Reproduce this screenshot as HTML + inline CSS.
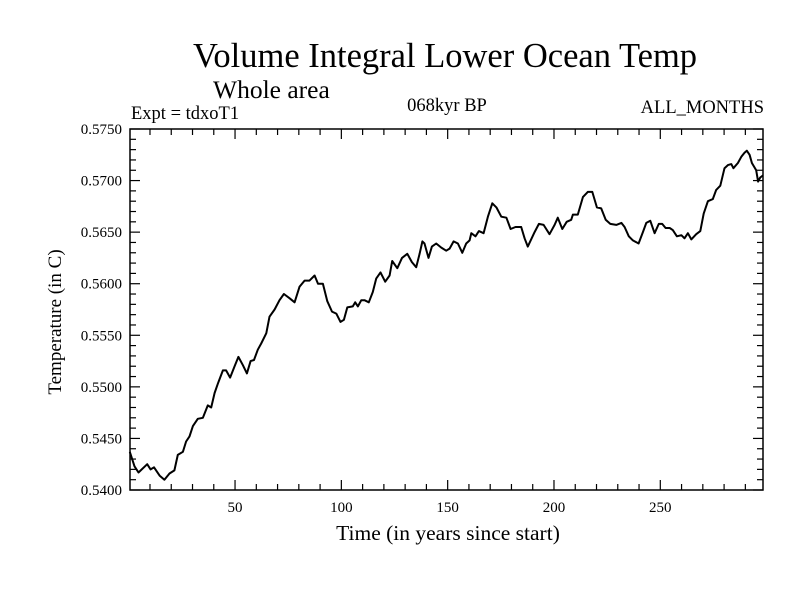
<!DOCTYPE html>
<html><head><meta charset="utf-8"><style>
body{margin:0;background:#fff;}
svg text{font-family:"Liberation Serif",serif;fill:#000;}
</style></head><body>
<svg id="c" width="800" height="600" xmlns="http://www.w3.org/2000/svg">
<text x="445" y="67" font-size="34.5" text-anchor="middle">Volume Integral Lower Ocean Temp</text>
<text x="213" y="98" font-size="25.5">Whole area</text>
<text x="131" y="119" font-size="18.5">Expt = tdxoT1</text>
<text x="447" y="111" font-size="18.5" text-anchor="middle">068kyr BP</text>
<text x="764" y="113" font-size="18.5" text-anchor="end">ALL_MONTHS</text>
<text x="448" y="540" font-size="21.5" text-anchor="middle">Time (in years since start)</text>
<text transform="translate(61,322) rotate(-90)" font-size="19" text-anchor="middle">Temperature (in C)</text>
<g id="ticks"></g>
<rect x="130" y="129" width="633" height="361" fill="none" stroke="#000" stroke-width="1.5"/>
<path id="line" fill="none" stroke="#000" stroke-width="2" stroke-linejoin="round"/>
</svg>
<script>
const years=[0.5,2.7,4.6,8.7,10.3,11.9,14.5,16.8,19.2,21.5,23.1,25.5,27,28.6,30.2,32.5,34.9,37.2,38.8,40.4,41.9,44.3,45.8,47.7,49.8,51.6,53.7,55.6,57.3,58.9,60.7,62.3,64.7,66.2,68.6,70.9,73,75.6,78,80.3,82.7,85,87.4,89,91.3,93.4,95.6,97.6,99.6,101.2,102.8,105.4,106.5,107.8,109.4,110.9,112.9,114.8,116.4,118.4,120.6,122.7,123.9,126.3,128.5,131,133.2,135.2,136.8,138.1,139.1,141,142.6,144.6,147,149.3,150.9,152.8,154.8,156.9,158.7,160.3,161.1,163.1,164.7,166.9,168.9,171,172.9,175.2,177.6,179.6,181.9,184.6,186.2,187.7,190.9,192.9,195.1,197.9,200.3,201.8,203.9,206,208.1,208.9,211.2,213.6,215.9,218,220.2,222.2,224.3,226.5,229.3,231.7,233.2,235.2,237.1,239.8,241.8,243.4,245.3,247.3,249.3,250.9,252.5,254.4,255.9,257.8,259.9,261.4,263,264.6,266.9,268.8,270.4,272.4,274.7,276.3,278.2,280.2,281.8,283.4,284.4,286.5,288.1,289.6,290.7,292,293.1,295.1,296,297,298.3];
const temps=[0.5437,0.5423,0.5417,0.5425,0.5420,0.5422,0.5414,0.5410,0.5416,0.5419,0.5434,0.5437,0.5447,0.5452,0.5462,0.5469,0.5470,0.5482,0.5480,0.5494,0.5503,0.5516,0.5516,0.5509,0.5520,0.5529,0.5521,0.5513,0.5525,0.5526,0.5536,0.5542,0.5552,0.5568,0.5575,0.5584,0.5590,0.5586,0.5582,0.5597,0.5603,0.5603,0.5608,0.5600,0.5600,0.5583,0.5573,0.5571,0.5563,0.5565,0.5577,0.5578,0.5582,0.5578,0.5584,0.5584,0.5582,0.5592,0.5605,0.5611,0.5602,0.5608,0.5622,0.5615,0.5625,0.5629,0.5621,0.5616,0.5629,0.5641,0.5639,0.5625,0.5636,0.5639,0.5635,0.5632,0.5634,0.5641,0.5639,0.5630,0.5639,0.5642,0.5649,0.5646,0.5651,0.5649,0.5665,0.5678,0.5674,0.5665,0.5664,0.5653,0.5655,0.5655,0.5644,0.5636,0.5650,0.5658,0.5657,0.5648,0.5657,0.5664,0.5653,0.5660,0.5662,0.5667,0.5667,0.5684,0.5689,0.5689,0.5674,0.5673,0.5662,0.5658,0.5657,0.5659,0.5655,0.5646,0.5642,0.5639,0.5650,0.5659,0.5661,0.5649,0.5658,0.5658,0.5654,0.5654,0.5652,0.5646,0.5647,0.5644,0.5649,0.5643,0.5648,0.5651,0.5668,0.5680,0.5682,0.5691,0.5695,0.5712,0.5715,0.5716,0.5712,0.5717,0.5723,0.5727,0.5729,0.5725,0.5717,0.5710,0.5699,0.5703,0.5705];
const xTickLabels=[50,100,150,200,250];
const yTickLabels=["0.5400","0.5450","0.5500","0.5550","0.5600","0.5650","0.5700","0.5750"];
const X0=130,X1=763,Y0=490,Y1=129,xMin=0.6,xMax=298.3,yMin=0.54,yMax=0.575;
function sx(v){return X0+(v-xMin)/(xMax-xMin)*(X1-X0);}
function sy(v){return Y0-(v-yMin)/(yMax-yMin)*(Y0-Y1);}
const NS="http://www.w3.org/2000/svg";
const g=document.getElementById('ticks');
function ln(x1,y1,x2,y2){const l=document.createElementNS(NS,'line');l.setAttribute('x1',x1);l.setAttribute('y1',y1);l.setAttribute('x2',x2);l.setAttribute('y2',y2);l.setAttribute('stroke','#000');l.setAttribute('stroke-width','1.2');


g.appendChild(l);}
function tx(x,y,s,a,n){const t=document.createElementNS(NS,'text');t.setAttribute('x',x);t.setAttribute('y',y);t.setAttribute('font-size','15');t.setAttribute('text-anchor',a);t.textContent=s;


g.appendChild(t);}
for(let v=10;v<xMax;v+=10){const x=sx(v),L=(v%50===0)?10:6;ln(x,Y0,x,Y0-L);ln(x,Y1,x,Y1+L);}
xTickLabels.forEach(v=>tx(sx(v),512,String(v),'middle','x-tick-label'));
for(let i=0;i<=35;i++){const v=yMin+i*0.001,y=sy(v),L=(i%5===0)?10:6;ln(X0,y,X0+L,y);ln(X1,y,X1-L,y);}
yTickLabels.forEach(s=>tx(122,sy(parseFloat(s))+5,s,'end','y-tick-label'));
document.getElementById('line').setAttribute('d',years.map((v,i)=>(i?'L':'M')+sx(v).toFixed(1)+' '+sy(temps[i]).toFixed(1)).join(''));
</script>
</body></html>
